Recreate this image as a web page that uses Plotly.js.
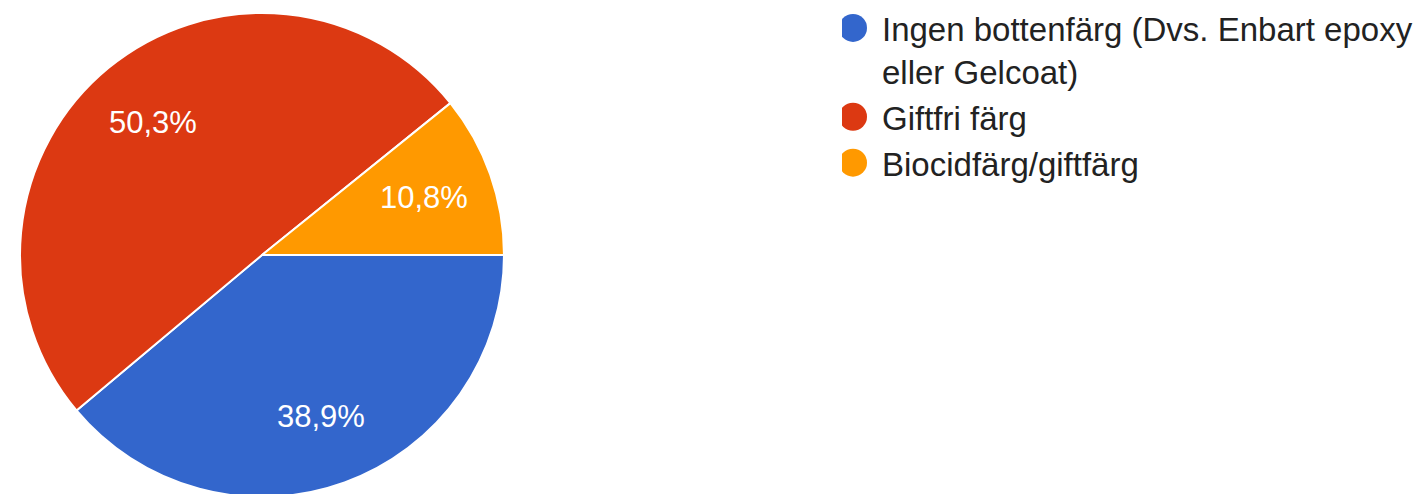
<!DOCTYPE html>
<html>
<head>
<meta charset="utf-8">
<script src="https://cdn.plot.ly/plotly-3.0.1.min.js"></script>
<style>
  html, body { margin: 0; padding: 0; background: #fff; overflow: hidden; }
  #chart { width: 1418px; height: 500px; }
</style>
</head>
<body>
<div id="chart"></div>
<script>
// Data
const categories = [
  "Ingen bottenfärg (Dvs. Enbart epoxy<br>eller Gelcoat)",
  "Giftfri färg",
  "Biocidfärg/giftfärg"
];
const shares = [38.9, 50.3, 10.8];
const sliceColors = ["#3366cc", "#dc3912", "#ff9900"];

const W = 1418, H = 500;
const pieDomain = { x: [20 / W, 504 / W], y: [0.006, 0.974] };
const startAngle = 0;      // 3 o'clock, in math degrees
const labelRadius = 0.71;  // fraction of pie radius

// label positions derived from the data (slice mid-angles), like Google Charts
const total = shares.reduce((a, b) => a + b, 0);
const cxPaper = (pieDomain.x[0] + pieDomain.x[1]) / 2;
const cyPaper = (pieDomain.y[0] + pieDomain.y[1]) / 2;
const rPx = Math.min((pieDomain.x[1] - pieDomain.x[0]) * W, (pieDomain.y[1] - pieDomain.y[0]) * H) / 2;
let acc = 0;
const labelAnnotations = shares.map(function (v) {
  const mid = startAngle - (acc + v / 2) / total * 360;
  acc += v;
  const a = mid * Math.PI / 180;
  const pct = (v / total * 100).toFixed(1).replace(".", ",") + "%";
  return {
    xref: "paper", yref: "paper",
    x: cxPaper + labelRadius * rPx * Math.cos(a) / W,
    y: cyPaper + labelRadius * rPx * Math.sin(a) / H,
    xanchor: "center", yanchor: "middle",
    text: pct, showarrow: false,
    font: { family: "Liberation Sans, Arial, sans-serif", size: 31, color: "#ffffff" }
  };
});

const trace = {
  type: "pie",
  labels: categories,
  values: shares,
  sort: false,
  direction: "clockwise",
  rotation: 90 - startAngle,
  marker: { colors: sliceColors, line: { color: "#ffffff", width: 2 } },
  textinfo: "none",
  domain: pieDomain,
  hoverinfo: "label+percent"
};

const layout = {
  width: W,
  height: H,
  margin: { l: 0, r: 0, t: 0, b: 0, pad: 0 },
  paper_bgcolor: "#ffffff",
  separators: ", ",
  showlegend: true,
  annotations: labelAnnotations,
  legend: {
    x: 842 / W,
    xanchor: "left",
    y: 1 - 0 / H,
    yanchor: "top",
    valign: "top",
    font: { family: "Liberation Sans, Arial, sans-serif", size: 33, color: "#222222" },
    bgcolor: "rgba(0,0,0,0)",
    itemclick: false,
    itemdoubleclick: false
  }
};

Plotly.newPlot("chart", [trace], layout, { displayModeBar: false, staticPlot: true }).then(function (gd) {
  // Render legend symbols as circles (as in the reference)
  const r = 14, cx = -9;
  const circle = "M" + (cx + r) + ",0A" + r + "," + r + " 0 1,1 " + (cx - r) + ",0A" + r + "," + r + " 0 1,1 " + (cx + r) + ",0Z";
  gd.querySelectorAll(".legend .legendpoints path").forEach(function (p) {
    p.setAttribute("d", circle);
    p.style.strokeWidth = "0";
  });
});
</script>
</body>
</html>
